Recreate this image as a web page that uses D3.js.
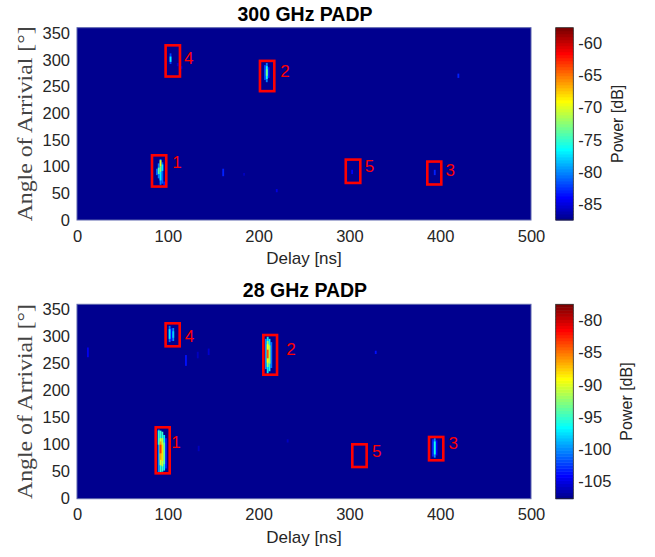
<!DOCTYPE html>
<html><head><meta charset="utf-8">
<script src="https://cdn.jsdelivr.net/npm/d3@7"></script>
<style>body{margin:0;background:#fff}svg{display:block}</style>
</head><body>
<svg id="c" width="655" height="557"></svg>
<script>
// ---------- DATA ----------
const delayTicks = [0, 100, 200, 300, 400, 500];
const angleTicks = [0, 50, 100, 150, 200, 250, 300, 350];
const powerTicks300 = [-85, -80, -75, -70, -65, -60];
const powerTicks28 = [-105, -100, -95, -90, -85, -80];
const powerRange300 = [-87.4, -57.6];
const powerRange28 = [-107.7, -77.5];
const delayDomain = [0, 500];
const angleDomain = [0, 360];

// PADP cells: [delay ns, angle low deg, angle high deg, power dB]
const padp300 = [
  [88, 84, 96, -81],
  [90, 78, 106, -80], [90, 86, 98, -74],
  [92, 66, 114, -80], [92, 74, 90, -77], [92, 90, 100, -73], [92, 100, 112, -70],
  [94, 68, 108, -81], [94, 92, 104, -77],
  [96, 62, 72, -83],
  [207, 262, 290, -82],
  [209, 258, 294, -80], [209, 264, 288, -76], [209, 270, 282, -73],
  [211, 266, 286, -83],
  [103, 292, 312, -82], [103, 296, 306, -77],
  [111, 288, 294, -85.5], [115, 283, 288, -85],
  [161, 82, 96, -83], [184, 83, 88, -86], [220, 52, 58, -85],
  [420, 266, 274, -83], [303, 86, 94, -84], [394, 84, 94, -83]
];
const padp28 = [
  [90, 48, 128, -100], [90, 100, 126, -95],
  [92, 48, 126, -95], [92, 62, 112, -90], [92, 72, 106, -86], [92, 84, 100, -83],
  [94, 50, 124, -95], [94, 60, 112, -91], [94, 70, 100, -88],
  [96, 52, 118, -97], [96, 64, 104, -94],
  [98, 56, 112, -103],
  [208, 240, 296, -100],
  [210, 232, 300, -97], [210, 244, 292, -92], [210, 252, 286, -89], [210, 260, 276, -84],
  [212, 236, 296, -96], [212, 250, 284, -92],
  [214, 242, 290, -101],
  [102, 290, 320, -101], [102, 296, 314, -97],
  [104, 292, 316, -104],
  [106, 292, 316, -100], [106, 298, 310, -98],
  [392, 78, 110, -103],
  [394, 76, 112, -100], [394, 82, 106, -96],
  [396, 80, 108, -104],
  [12, 262, 280, -104.5], [120, 246, 266, -103.5], [133, 260, 272, -106],
  [145, 266, 278, -105.5], [134, 88, 98, -106], [232, 104, 110, -106], [329, 268, 274, -103.5]
];

// cluster boxes: [label, delay0, delay1, angle0, angle1, labelDelay, labelAngle]
const boxes300 = [
  ["1", 82.6, 98.3, 62.6, 121.1, 110, 108],
  ["4", 97.6, 113.4, 268.6, 327, 123, 304],
  ["2", 201.5, 217.3, 241.2, 297.9, 229, 279],
  ["5", 296, 312, 69.4, 113.1, 322, 101],
  ["3", 385.8, 401.2, 66.5, 109.4, 411, 94]
];
const boxes28 = [
  ["1", 86.7, 102.1, 47, 132.2, 109, 104.4],
  ["4", 97.6, 113.1, 282.2, 324.8, 124, 301.9],
  ["2", 205.2, 220.3, 229.6, 303.1, 235.7, 276.7],
  ["5", 303.2, 319, 58.7, 100.7, 330, 88.3],
  ["3", 387.7, 403.4, 71.1, 114.3, 414.4, 102.6]
];

// ---------- JET (MATLAB jet(64)) ----------
function u(j) { if (j < 1 || j > 47) return 0; if (j <= 16) return j / 16; if (j <= 31) return 1; return (48 - j) / 16; }
function jet(k) { // k 1..64
  return d3.rgb(Math.round(255 * u(k - 24)), Math.round(255 * u(k - 8)), Math.round(255 * u(k + 8))).formatHex();
}
function colorFor(range) {
  return v => {
    let idx = Math.floor((v - range[0]) / (range[1] - range[0]) * 64);
    idx = Math.max(0, Math.min(63, idx));
    return jet(idx + 1);
  };
}

const svg = d3.select("#c");
const sans = "'Liberation Sans', Arial, Helvetica, sans-serif";
const serif = "'Liberation Serif', 'DejaVu Serif', serif";
const L = 77, R = 531, CBX0 = 555.7, CBX1 = 573.3;

function panel(top, bottom, title, cells, boxes, prange, pticks, cbLabelX) {
  const x = d3.scaleLinear().domain(delayDomain).range([L, R]);
  const y = d3.scaleLinear().domain(angleDomain).range([bottom, top]);
  const col = colorFor(prange);
  const g = svg.append("g");
  g.append("rect").attr("x", L).attr("y", top).attr("width", R - L).attr("height", bottom - top)
    .attr("fill", jet(1));
  const sorted = cells.slice().sort((a, b) => a[3] - b[3]);
  g.selectAll("rect.cell").data(sorted).enter().append("rect").attr("class", "cell")
    .attr("x", d => x(d[0] - 1)).attr("width", d => x(d[0] + 1) - x(d[0] - 1))
    .attr("y", d => y(d[2])).attr("height", d => y(d[1]) - y(d[2]))
    .attr("fill", d => col(d[3]));
  g.append("rect").attr("x", L).attr("y", top).attr("width", R - L).attr("height", bottom - top)
    .attr("fill", "none").attr("stroke", "#5c64ad").attr("stroke-width", 1);

  // axes
  const xa = g.append("g").attr("transform", `translate(0,${bottom})`)
    .call(d3.axisBottom(x).tickValues(delayTicks).tickSize(0).tickPadding(10).tickFormat(d3.format("d")));
  const ya = g.append("g").attr("transform", `translate(${L},0)`)
    .call(d3.axisLeft(y).tickValues(angleTicks).tickSize(0).tickPadding(7).tickFormat(d3.format("d")));
  [xa, ya].forEach(a => {
    a.select(".domain").remove();
    a.selectAll("text").attr("font-family", sans).attr("font-size", 16.5).attr("fill", "#262626");
  });
  xa.selectAll("text").attr("dy", "0.71em");

  // boxes
  g.selectAll("rect.box").data(boxes).enter().append("rect").attr("class", "box")
    .attr("x", d => x(d[1])).attr("width", d => x(d[2]) - x(d[1]))
    .attr("y", d => y(d[4])).attr("height", d => y(d[3]) - y(d[4]))
    .attr("fill", "none").attr("stroke", "#ff0000").attr("stroke-width", 2.6);
  g.selectAll("text.blab").data(boxes).enter().append("text").attr("class", "blab")
    .attr("x", d => x(d[5])).attr("y", d => y(d[6])).attr("dy", "0.36em")
    .attr("text-anchor", "middle").attr("font-family", sans).attr("font-size", 17)
    .attr("fill", "#ff0000").text(d => d[0]);

  // titles & labels
  g.append("text").attr("x", (L + R) / 2 + 1).attr("y", top - 7).attr("text-anchor", "middle")
    .attr("font-family", sans).attr("font-weight", "bold").attr("font-size", 19.5).attr("fill", "#000").text(title);
  g.append("text").attr("x", (L + R) / 2).attr("y", bottom + 44).attr("text-anchor", "middle")
    .attr("font-family", sans).attr("font-size", 17).attr("fill", "#262626").text("Delay [ns]");
  g.append("text").attr("transform", `translate(32,${(top + bottom) / 2}) rotate(-90)`)
    .attr("text-anchor", "middle").attr("font-family", serif).attr("font-size", 21).attr("fill", "#444")
    .attr("textLength", 195).attr("lengthAdjust", "spacingAndGlyphs")
    .text("Angle of Arrivial [°]");

  // colorbar
  const cy = d3.scaleLinear().domain(prange).range([bottom, top]);
  const levels = d3.range(64);
  const h = (bottom - top) / 64;
  g.selectAll("rect.cb").data(levels).enter().append("rect").attr("class", "cb")
    .attr("x", CBX0).attr("width", CBX1 - CBX0)
    .attr("y", d => bottom - (d + 1) * h).attr("height", h + 0.5)
    .attr("fill", d => jet(d + 1));
  g.append("rect").attr("x", CBX0).attr("y", top).attr("width", CBX1 - CBX0).attr("height", bottom - top)
    .attr("fill", "none").attr("stroke", "#262626").attr("stroke-width", 0.8);
  const ca = g.append("g").attr("transform", `translate(${CBX1},0)`)
    .call(d3.axisRight(cy).tickValues(pticks).tickSize(0).tickPadding(5).tickFormat(d => d3.format("d")(d).replace("−", "-")));
  ca.select(".domain").remove();
  ca.selectAll("text").attr("font-family", sans).attr("font-size", 16.5).attr("fill", "#262626");
  g.append("text").attr("transform", `translate(${cbLabelX},${(top + bottom) / 2}) rotate(-90)`)
    .attr("text-anchor", "middle").attr("font-family", sans).attr("font-size", 16).attr("fill", "#262626")
    .text("Power [dB]");
}

panel(27.7, 220, "300 GHz PADP", padp300, boxes300, powerRange300, powerTicks300, 623);
panel(304.3, 498.7, "28 GHz PADP", padp28, boxes28, powerRange28, powerTicks28, 632);
</script>
</body></html>
